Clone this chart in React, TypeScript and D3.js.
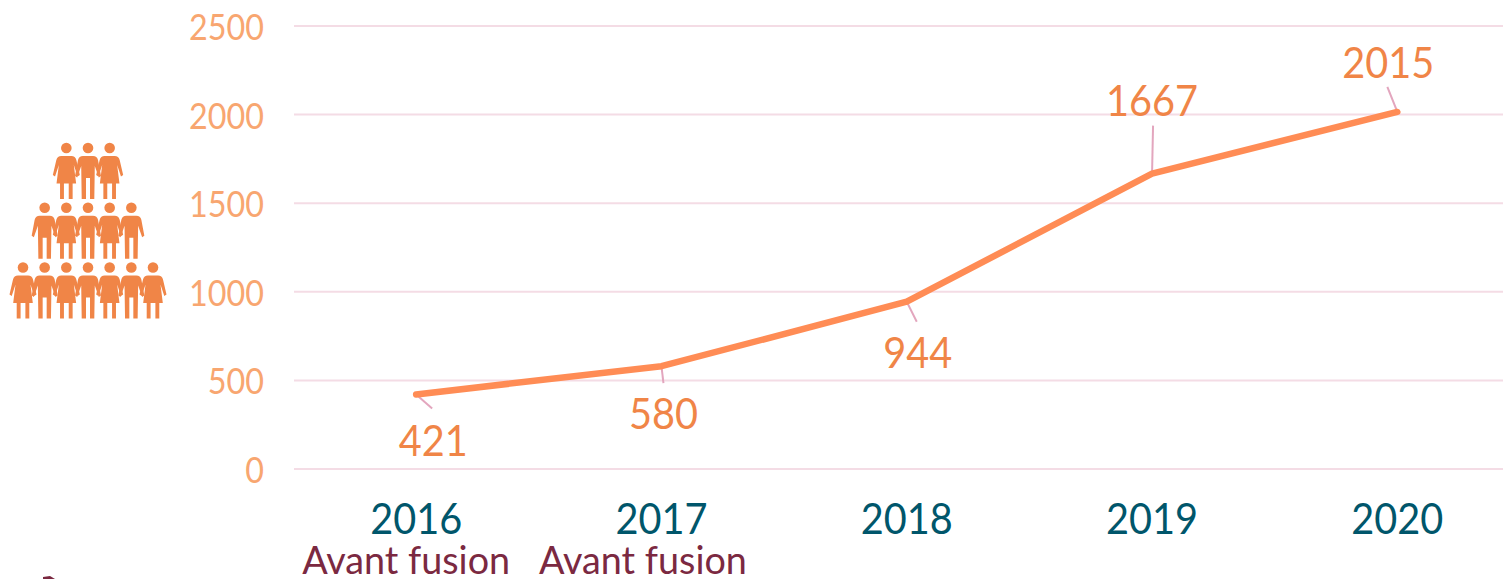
import React from "react";
import * as d3 from "d3";

const years = ["2016", "2017", "2018", "2019", "2020"];
const people = [421, 580, 944, 1667, 2015];
const yTicks = [0, 500, 1000, 1500, 2000, 2500];
const notes = ["Avant fusion", "Avant fusion", "", "", ""];
const iconRows = ["WMW", "MWMWM", "WMWMWMW"];

const W = 1503, H = 579;
const FONT = "Lato, 'Open Sans', sans-serif";
const x = d3.scaleBand<string>().domain(years).range([293.5, 1520]);
const y = d3.scaleLinear().domain([0, 2500]).range([469, 26]);
const line = d3.line<number>().x((_, i) => x(years[i])! + x.bandwidth() / 2).y((d) => y(d));

// label placement relative to each point: text dx, baseline dy, leader end dx, dy
const labelOffset = [
  [17, 62, 16, 14],
  [2, 63, 2, 17],
  [11, 66, 10, 20],
  [0, -58, 1, -48],
  [-9, -34, -10, -25],
];
const noteDx = [-10, -18.5, 0, 0, 0];

const WOMAN = "M-5,8L5,8Q9,8 10,12L13.5,27L11.3,28.5L7.5,17L9.8,35.5L6.3,35.5L6.3,51L2.4,51L2.4,35.5L-2.4,35.5L-2.4,51L-6.3,51L-6.3,35.5L-9.8,35.5L-7.5,17L-11.3,28.5L-13.5,27L-10,12Q-9,8 -5,8Z";
const MAN = "M-5,8L5,8Q9,8 10,12L13,28L10.8,29.5L6.8,18L6.3,51L2,51L2,30L-2,30L-2,51L-6.3,51L-6.8,18L-10.8,29.5L-13,28L-10,12Q-9,8 -5,8Z";
const iconColor = "#F08547";
const iconX = d3.scaleLinear().domain([-3, 3]).range([23, 153]);
const iconY = d3.scaleLinear().domain([0, 2]).range([148, 267.5]);

export default function App() {
  const cx = (i: number) => x(years[i])! + x.bandwidth() / 2;
  return (
    <svg width={W} height={H} viewBox={`0 0 ${W} ${H}`} style={{ position: "absolute", left: 0, top: 0, background: "#fff" }} fontFamily={FONT}>
      {yTicks.map((t) => (
        <g key={t}>
          <line x1={294} x2={W} y1={y(t)} y2={y(t)} stroke="#F4DCE5" strokeWidth={2} />
          <text x={264} y={y(t) + 14} textAnchor="end" fontSize={36} fill="#F8A670"
            textLength={String(t).length * 18.75} lengthAdjust="spacingAndGlyphs">{t}</text>
        </g>
      ))}
      {people.map((v, i) => {
        const o = labelOffset[i];
        return <line key={i} x1={cx(i)} y1={y(v)} x2={cx(i) + o[2]} y2={y(v) + o[3]} stroke="#E3A6BE" strokeWidth={2} />;
      })}
      <path d={line(people)!} fill="none" stroke="#FF8C55" strokeWidth={6.5} strokeLinejoin="round" strokeLinecap="round" />
      {people.map((v, i) => {
        const o = labelOffset[i];
        return <text key={i} x={cx(i) + o[0]} y={y(v) + o[1]} textAnchor="middle" fontSize={42} fill="#F08547"
          textLength={String(v).length * 23} lengthAdjust="spacingAndGlyphs">{v}</text>;
      })}
      {years.map((yr, i) => (
        <text key={yr} x={cx(i)} y={534} textAnchor="middle" fontSize={42} fill="#00566B"
          textLength={92} lengthAdjust="spacingAndGlyphs">{yr}</text>
      ))}
      {notes.map((n, i) => n && (
        <text key={i} x={cx(i) + noteDx[i]} y={574} textAnchor="middle" fontSize={38} fill="#7B2941"
          textLength={208} lengthAdjust="spacingAndGlyphs">{n}</text>
      ))}
      {iconRows.map((row, r) =>
        row.split("").map((k, c) => (
          <g key={`${r}-${c}`} transform={`translate(${iconX(c - (row.length - 1) / 2)},${iconY(r)})`} fill={iconColor}>
            <circle r={5.3} />
            <path d={k === "W" ? WOMAN : MAN} />
          </g>
        ))
      )}
      <path d="M43,577L50,576L55,579L43,579Z" fill="#7B2941" />
    </svg>
  );
}
